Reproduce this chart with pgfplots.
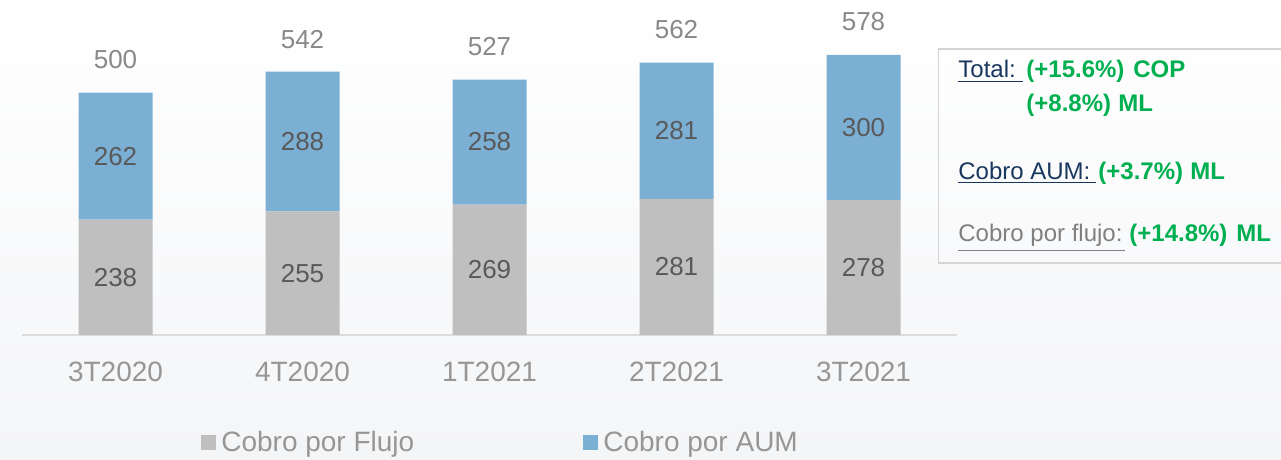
\documentclass[border=0pt]{standalone}
\usepackage{pgfplots}
\pgfplotsset{compat=1.18}
\usepackage{fontspec}
\setmainfont{Liberation Sans}
\definecolor{barblue}{RGB}{123,175,212}
\definecolor{bargray}{RGB}{191,191,191}
\definecolor{lblin}{RGB}{89,89,89}
\definecolor{lbltot}{RGB}{137,137,137}
\definecolor{tickgray}{RGB}{150,150,150}
\definecolor{axgray}{RGB}{220,220,220}
\definecolor{bgbot}{RGB}{244,245,247}
\definecolor{navy}{RGB}{23,55,94}
\definecolor{okgreen}{RGB}{0,176,80}
\definecolor{boxgray}{RGB}{212,212,212}
\definecolor{flujogray}{RGB}{128,128,128}
\pgfplotsset{commonax/.style={
  at={(11pt,62.5pt)}, anchor=south west,
  scale only axis, width=467.5pt, height=167.5pt,
  xmin=-0.5, xmax=4.5, ymin=0, ymax=691,
  bar width=37pt, clip=false,
  /pgf/number format/assume math mode=true}}
\begin{document}
\begin{tikzpicture}[x=0.5pt,y=0.5pt]
\useasboundingbox (0,0) rectangle (1281,460);
\shade[top color=white,bottom color=bgbot] (0,0) rectangle (1281,460);
\begin{axis}[
  commonax,
  ybar stacked,
  axis y line=none,
  axis x line*=bottom,
  x axis line style={draw=axgray, line width=1pt, -},
  xtick={0,1,2,3,4},
  xticklabels={3T2020,4T2020,1T2021,2T2021,3T2021},
  major tick length=0pt,
  ytick=\empty,
  xticklabel style={font=\fontsize{14}{16}\selectfont, text=tickgray, anchor=base, yshift=-23.25pt},
  legend style={at={(0.1914,-0.3209)}, anchor=west, draw=none, fill=none, inner sep=0pt,
    font=\fontsize{14}{16}\selectfont, text=tickgray,
    /tikz/every odd column/.append style={column sep=0.5pt},
    /tikz/every even column/.append style={column sep=82.5pt}},
  legend columns=2,
  legend image code/.code={\fill[#1] (0pt,-3.75pt) rectangle (7.5pt,3.75pt);},
]
\addplot[fill=bargray, draw=none, point meta=explicit symbolic, nodes near coords,
  nodes near coords style={anchor=center, text=lblin, font=\fontsize{13}{15}\selectfont}]
  coordinates {(0,238)[238] (1,255)[255] (2,269)[269] (3,281)[281] (4,278)[278]};
\addplot[fill=barblue, draw=none, point meta=explicit symbolic, nodes near coords,
  nodes near coords style={anchor=center, text=lblin, font=\fontsize{13}{15}\selectfont}]
  coordinates {(0,262)[262] (1,288)[288] (2,258)[258] (3,281)[281] (4,300)[300]};
\legend{Cobro por Flujo, Cobro por AUM}
\end{axis}
\begin{axis}[commonax, ybar, hide axis]
\addplot[fill=none, draw=none, point meta=explicit symbolic, nodes near coords,
  nodes near coords style={anchor=center, yshift=16.5pt, text=lbltot, font=\fontsize{13}{15}\selectfont}]
  coordinates {(0,500)[500] (1,542)[542] (2,527)[527] (3,562)[562] (4,578)[578]};
\end{axis}
% text box
\draw[boxgray, line width=0.9pt] (1281,411) -- (938.5,411) -- (938.5,197.3) -- (1281,197.3);
\begin{scope}[every node/.style={anchor=base west, inner sep=0pt, font=\fontsize{12}{14}\selectfont}]
\node[text=navy] at (958,382) {Total:};
\draw[navy, line width=0.75pt] (958,378.7) -- (1023,378.7);
\node[text=okgreen, font=\fontsize{12}{14}\selectfont\bfseries] at (1026,382) {(+15.6\%)};
\node[text=okgreen, font=\fontsize{12}{14}\selectfont\bfseries] at (1133,382) {COP};
\node[text=okgreen, font=\fontsize{12}{14}\selectfont\bfseries] at (1026,348) {(+8.8\%)};
\node[text=okgreen, font=\fontsize{12}{14}\selectfont\bfseries] at (1118,348) {ML};
\node[text=navy] at (958,280) {Cobro AUM:};
\draw[navy, line width=0.75pt] (958,277.3) -- (1096,277.3);
\node[text=okgreen, font=\fontsize{12}{14}\selectfont\bfseries] at (1098,280) {(+3.7\%)};
\node[text=okgreen, font=\fontsize{12}{14}\selectfont\bfseries] at (1190,280) {ML};
\node[text=flujogray] at (958,218) {Cobro por flujo:};
\draw[flujogray, line width=0.75pt] (958,209.5) -- (1125,209.5);
\node[text=okgreen, font=\fontsize{12}{14}\selectfont\bfseries] at (1129,218) {(+14.8\%)};
\node[text=okgreen, font=\fontsize{12}{14}\selectfont\bfseries] at (1236,218) {ML};
\end{scope}
\end{tikzpicture}
\end{document}
